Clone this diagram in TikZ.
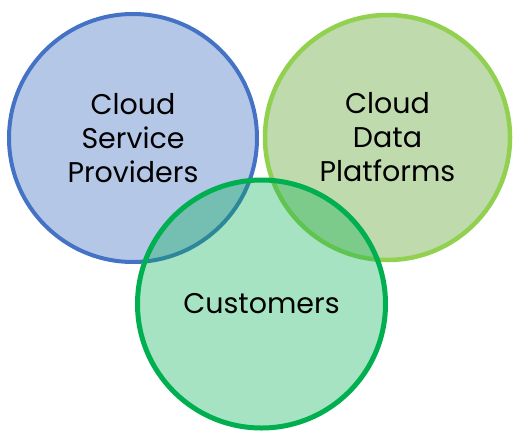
\documentclass[tikz,border=0pt]{standalone}
\usepackage{fontspec}
\setmainfont{Poppins}
\definecolor{cspline}{HTML}{4472C4}
\definecolor{cdpline}{HTML}{92D050}
\definecolor{cdpfill}{HTML}{70AD47}
\definecolor{custline}{HTML}{00B050}
\tikzset{
  venn/.style={circle, inner sep=0pt, align=center, font=\fontsize{28.5}{34}\selectfont, text=black},
}
\begin{document}
\begin{tikzpicture}[x=1pt,y=-1pt]
\useasboundingbox (0,0) rectangle (513,431);
\node[venn, minimum size=248pt, line width=4pt, draw=cspline, fill=cspline, fill opacity=0.4, text opacity=1]
  (csp) at (133,138) {Cloud\\Service\\Providers};
\node[venn, minimum size=245pt, line width=4.5pt, draw=cdpline, fill=cdpfill, fill opacity=0.45, text opacity=1]
  (cdp) at (387.5,137.5) {Cloud\\Data\\Platforms};
\node[venn, minimum size=248pt, line width=5pt, draw=custline, fill=custline, fill opacity=0.35, text opacity=1]
  (cust) at (261.5,304) {Customers};
\end{tikzpicture}
\end{document}
